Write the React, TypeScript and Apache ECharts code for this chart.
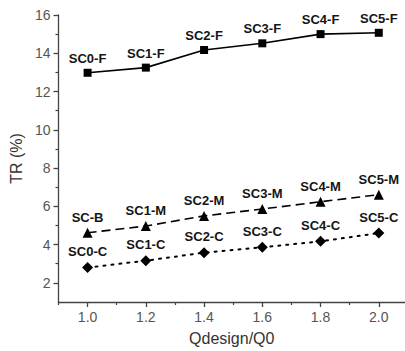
import React, { useEffect, useRef } from "react";
import * as echarts from "echarts";

const xValues = [1.0, 1.2, 1.4, 1.6, 1.8, 2.0];
const fValues = [12.98, 13.25, 14.17, 14.52, 15.0, 15.07];
const mValues = [4.62, 4.97, 5.5, 5.86, 6.24, 6.61];
const cValues = [2.8, 3.16, 3.58, 3.86, 4.17, 4.6];
const fLabels = ["SC0-F", "SC1-F", "SC2-F", "SC3-F", "SC4-F", "SC5-F"];
const mLabels = ["SC-B", "SC1-M", "SC2-M", "SC3-M", "SC4-M", "SC5-M"];
const cLabels = ["SC0-C", "SC1-C", "SC2-C", "SC3-C", "SC4-C", "SC5-C"];
const xMajorTicks = [1.0, 1.2, 1.4, 1.6, 1.8, 2.0];
const xMinorTicks = [0.9, 1.1, 1.3, 1.5, 1.7, 1.9];
const yMajorTicks = [2, 4, 6, 8, 10, 12, 14, 16];
const yMinorTicks = [3, 5, 7, 9, 11, 13, 15];

const FONT = "'Liberation Sans', Arial, sans-serif";
const AXIS_COLOR = "#444";

export default function App() {
  const ref = useRef<HTMLDivElement>(null);
  useEffect(() => {
    document.body.style.margin = "0";
    if (!ref.current) return;
    const chart = echarts.init(ref.current, null, { renderer: "svg" });
    const mkData = (vals: number[]) => xValues.map((x, i) => [x, vals[i]]);
    const labelOpt = (labels: string[]) => ({
      show: true,
      position: "top",
      distance: 4,
      fontFamily: FONT,
      fontWeight: "bold",
      fontSize: 13,
      color: "#151515",
      formatter: (p: any) => labels[p.dataIndex],
    });
    const xBase = {
      type: "value",
      min: 0.9,
      max: 2.09,
      position: "bottom",
      splitLine: { show: false },
    };
    const yBase = {
      type: "value",
      min: 1,
      max: 16,
      position: "left",
      splitLine: { show: false },
    };
    chart.setOption({
      animation: false,
      backgroundColor: "#fff",
      grid: { left: 52, right: 0, top: 15, bottom: 49 },
      xAxis: [
        {
          ...xBase,
          name: "Qdesign/Q0",
          nameLocation: "middle",
          nameGap: 28,
          nameTextStyle: { fontFamily: FONT, fontSize: 16, color: "#333" },
          axisLine: { show: true, lineStyle: { color: AXIS_COLOR, width: 1.3 } },
          axisTick: {
            show: true,
            length: 5,
            customValues: xMajorTicks,
            lineStyle: { color: AXIS_COLOR, width: 1.3 },
          },
          axisLabel: {
            customValues: xMajorTicks,
            formatter: (v: number) => v.toFixed(1),
            color: "#555",
            fontFamily: FONT,
            fontSize: 14,
            margin: 8,
          },
        },
        {
          ...xBase,
          axisLine: { show: false },
          axisTick: {
            show: true,
            length: 3,
            customValues: xMinorTicks,
            lineStyle: { color: AXIS_COLOR, width: 1.2 },
          },
          axisLabel: { show: false },
        },
      ],
      yAxis: [
        {
          ...yBase,
          name: "TR (%)",
          nameLocation: "middle",
          nameGap: 30,
          nameTextStyle: { fontFamily: FONT, fontSize: 16, color: "#333" },
          axisLine: { show: true, lineStyle: { color: AXIS_COLOR, width: 1.3 } },
          axisTick: {
            show: true,
            length: 5,
            customValues: yMajorTicks,
            lineStyle: { color: AXIS_COLOR, width: 1.3 },
          },
          axisLabel: {
            customValues: yMajorTicks,
            color: "#555",
            fontFamily: FONT,
            fontSize: 14,
            margin: 8,
          },
        },
        {
          ...yBase,
          axisLine: { show: false },
          axisTick: {
            show: true,
            length: 3,
            customValues: yMinorTicks,
            lineStyle: { color: AXIS_COLOR, width: 1.2 },
          },
          axisLabel: { show: false },
        },
      ],
      series: [
        {
          type: "line",
          data: mkData(fValues),
          symbol: "rect",
          symbolSize: 8,
          itemStyle: { color: "#000" },
          lineStyle: { color: "#000", width: 1.6, type: "solid" },
          label: labelOpt(fLabels),
        },
        {
          type: "line",
          data: mkData(mValues),
          symbol: "triangle",
          symbolSize: 10,
          itemStyle: { color: "#000" },
          lineStyle: { color: "#000", width: 1.6, type: [9, 5] },
          label: labelOpt(mLabels),
        },
        {
          type: "line",
          data: mkData(cValues),
          symbol: "diamond",
          symbolSize: 11,
          itemStyle: { color: "#000" },
          lineStyle: { color: "#000", width: 2, type: [2, 6], cap: "round" },
          label: labelOpt(cLabels),
        },
      ],
    });
    return () => chart.dispose();
  }, []);
  return (
    <div
      ref={ref}
      style={{ position: "absolute", left: 0, top: 0, width: 405, height: 351 }}
    />
  );
}
